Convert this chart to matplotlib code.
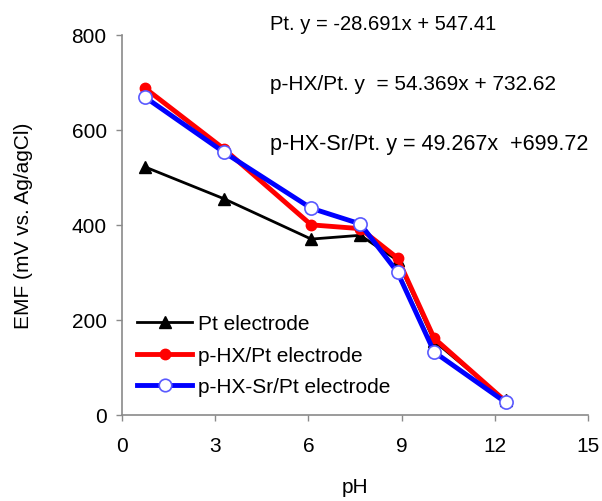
import matplotlib
matplotlib.use("Agg")
import matplotlib.pyplot as plt
import matplotlib.lines as mlines

plt.rcParams["font.family"] = ["Liberation Sans", "DejaVu Sans"]

# pH values and EMF readings (mV vs. Ag/AgCl)
ph = [0.74, 3.28, 6.09, 7.67, 8.87, 10.05, 12.35]
emf_pt = [522, 455, 370, 378, 325, 155, 30]
emf_phx = [688, 560, 400, 392, 330, 161, 28]
emf_phx_sr = [669, 553, 435, 402, 300, 132, 26]

series_labels = ["Pt electrode", "p-HX/Pt electrode", "p-HX-Sr/Pt electrode"]
equations = [
    "Pt. y = -28.691x + 547.41",
    "p-HX/Pt. y  = 54.369x + 732.62",
    "p-HX-Sr/Pt. y = 49.267x  +699.72",
]
x_ticks = [0, 3, 6, 9, 12, 15]
y_ticks = [0, 200, 400, 600, 800]

FS = 15
SPINE = "#8a8a8a"

fig = plt.figure(figsize=(6.02, 5.02), dpi=100)
ax = fig.add_axes([0.2027, 0.1719, 0.7740, 0.7564])

ax.plot(ph, emf_pt, color="black", linewidth=2.0, marker="^",
        markersize=8, markerfacecolor="black", markeredgecolor="black",
        clip_on=False, zorder=3)
ax.plot(ph, emf_phx, color="#ff0000", linewidth=3.5, marker="o",
        markersize=7.5, markerfacecolor="#ff0000", markeredgecolor="#ff0000",
        clip_on=False, zorder=4)
ax.plot(ph, emf_phx_sr, color="#0000ff", linewidth=3.5, marker="o",
        markersize=9.5, markerfacecolor="white", markeredgecolor="#5a5aff",
        markeredgewidth=1.2, clip_on=False, zorder=5)

ax.set_xlim(0, 15)
ax.set_ylim(0, 800)
ax.set_xticks(x_ticks)
ax.set_yticks(y_ticks)
ax.tick_params(axis="both", labelsize=FS, color=SPINE, length=4,
               width=1, direction="out", pad=7)
ax.tick_params(axis="x", pad=11)
for side in ("top", "right"):
    ax.spines[side].set_visible(False)
for side in ("left", "bottom"):
    ax.spines[side].set_color(SPINE)
    ax.spines[side].set_linewidth(1.2)

ax.set_xlabel("pH", fontsize=FS, labelpad=16)
ax.set_ylabel("EMF (mV vs. Ag/agCl)", fontsize=FS, labelpad=28)

# regression equations above the plot, sizes tuned per line to match widths
eq_sizes = [14.5, 15, 15.5]
for i, eq in enumerate(equations):
    fig.text(0.4485, 0.951 - i * 0.1195, eq, fontsize=eq_sizes[i],
             va="center", ha="left")

handles = [
    mlines.Line2D([], [], color="black", linewidth=2.0, marker="^",
                  markersize=8, label=series_labels[0]),
    mlines.Line2D([], [], color="#ff0000", linewidth=3.5, marker="o",
                  markersize=7.5, label=series_labels[1]),
    mlines.Line2D([], [], color="#0000ff", linewidth=3.5, marker="o",
                  markersize=9, markerfacecolor="white",
                  markeredgecolor="#5a5aff", markeredgewidth=1.2,
                  label=series_labels[2]),
]
ax.legend(handles=handles, loc="upper left", bbox_to_anchor=(0.0145, 0.286),
          frameon=False, fontsize=FS, handlelength=2.64, handletextpad=0.3,
          labelspacing=0.6, borderaxespad=0.0)

fig.savefig("out.png", dpi=100)
